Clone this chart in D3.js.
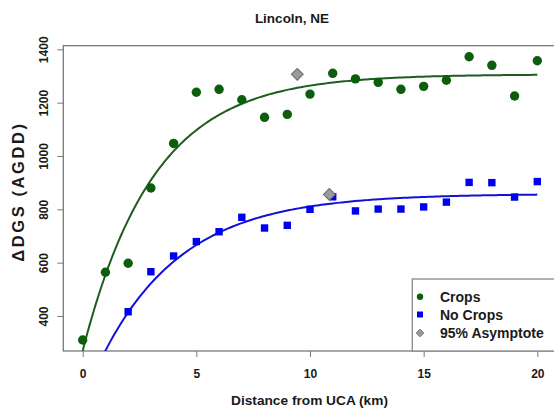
<!DOCTYPE html>
<html>
<head>
<meta charset="utf-8">
<script src="https://cdn.jsdelivr.net/npm/d3@7/dist/d3.min.js"></script>
<style>
  html, body { margin: 0; padding: 0; background: #fff; }
  svg { display: block; font-family: "Liberation Sans", Arial, Helvetica, sans-serif; font-weight: bold; }
</style>
</head>
<body>
<div id="chart"></div>
<script>
// Distance from the urban core (km)
const distances = d3.range(0, 21);

// ΔDGS observations, sites with crops
const cropsValues = [310, 564, 598, 880, 1047, 1239, 1250, 1211, 1145, 1156,
                     1232, 1310, 1289, 1276, 1250, 1261, 1284, 1372, 1340, 1225, 1357];

// ΔDGS observations, sites without crops (first two distances below the axis floor)
const noCropsDistances = d3.range(2, 21);
const noCropsValues = [416, 566, 625, 679, 716, 770, 730, 740, 800,
                       847, 794, 801, 801, 809, 827, 901, 900, 846, 904];

// Fitted exponential rise: [asymptote, value at 0 km, rate]
const cropsFit = [1306, 270, 0.32];
const noCropsFit = [858, 80, 0.28];

// 95% asymptote markers: [distance, value]
const asymptotePoints = [[9.44, 1306], [10.85, 856]];

const xTicks = [0, 5, 10, 15, 20];
const yTicks = [400, 600, 800, 1000, 1200, 1400];
const legendLabels = ["Crops", "No Crops", "95% Asymptote"];

const W = 554, H = 409;
const plot = { left: 63.3, right: 555.5, top: 45.7, bottom: 351 };

const svg = d3.select("#chart").append("svg")
  .attr("width", W).attr("height", H);

const x = d3.scaleLinear().domain([-0.853, 20.8]).range([plot.left, plot.right]);
const y = d3.scaleLinear().domain([268.8, 1413.5]).range([plot.bottom, plot.top]);

svg.append("defs").append("clipPath").attr("id", "plotClip")
  .append("rect")
  .attr("x", plot.left).attr("y", plot.top)
  .attr("width", plot.right - plot.left).attr("height", plot.bottom - plot.top);

// Title
svg.append("text")
  .attr("x", 292).attr("y", 23.3)
  .attr("text-anchor", "middle")
  .attr("font-size", 13.5).attr("fill", "#1a1a1a")
  .text("Lincoln, NE");

// Axes
const axisColor = "#7a7a7a";
const gx = svg.append("g")
  .attr("transform", `translate(0,${plot.bottom})`)
  .call(d3.axisBottom(x).tickValues(xTicks).tickSize(6).tickFormat(d3.format("d")));
gx.select(".domain").remove();
gx.selectAll("line").attr("stroke", axisColor);
gx.selectAll("text")
  .attr("y", 18).attr("dy", "0.71em")
  .attr("font-size", 12).attr("font-family", null).attr("fill", "#1a1a1a");

const gy = svg.append("g")
  .attr("transform", `translate(${plot.left},0)`)
  .call(d3.axisLeft(y).tickValues(yTicks).tickSize(6).tickFormat(d3.format("d")));
gy.select(".domain").remove();
gy.selectAll("line").attr("stroke", axisColor);
gy.selectAll("text")
  .attr("transform", "rotate(-90)")
  .attr("x", 0).attr("y", -15).attr("dy", 0)
  .attr("text-anchor", "middle")
  .attr("font-size", 12).attr("font-family", null).attr("fill", "#1a1a1a");

// Frame
svg.append("rect")
  .attr("x", plot.left).attr("y", plot.top)
  .attr("width", plot.right - plot.left).attr("height", plot.bottom - plot.top)
  .attr("fill", "none").attr("stroke", axisColor).attr("stroke-width", 1.3);

// Axis titles
svg.append("text")
  .attr("x", 309.5).attr("y", 405)
  .attr("text-anchor", "middle")
  .attr("font-size", 13.7).attr("fill", "#1a1a1a")
  .text("Distance from UCA (km)");

svg.append("text")
  .attr("transform", "translate(24,191.5) rotate(-90)")
  .attr("text-anchor", "middle")
  .attr("font-size", 16.5).attr("letter-spacing", 2.6).attr("fill", "#1a1a1a")
  .text("ΔDGS (AGDD)");

// Fitted curves
const fitAt = (p, d) => p[0] - (p[0] - p[1]) * Math.exp(-p[2] * d);
const curveX = d3.range(0, 20.001, 0.1);
const line = d3.line().x(d => x(d[0])).y(d => y(d[1]));

const g = svg.append("g").attr("clip-path", "url(#plotClip)");

g.append("path")
  .datum(curveX.map(d => [d, fitAt(cropsFit, d)]))
  .attr("d", line).attr("fill", "none")
  .attr("stroke", "#1f5c1f").attr("stroke-width", 2);

g.append("path")
  .datum(curveX.map(d => [d, fitAt(noCropsFit, d)]))
  .attr("d", line).attr("fill", "none")
  .attr("stroke", "#1212d6").attr("stroke-width", 2);

// Points
const green = "#0b5e0b", blue = "#0000f0";
g.selectAll(".crop").data(cropsValues).join("circle")
  .attr("cx", (d, i) => x(distances[i])).attr("cy", d => y(d))
  .attr("r", 4.7).attr("fill", green);

const sq = 7.4;
g.selectAll(".nocrop").data(noCropsValues).join("rect")
  .attr("x", (d, i) => x(noCropsDistances[i]) - sq / 2).attr("y", d => y(d) - sq / 2)
  .attr("width", sq).attr("height", sq).attr("fill", blue);

const diamond = d3.symbol().type(d3.symbolSquare).size(70);
g.selectAll(".asym").data(asymptotePoints).join("path")
  .attr("d", diamond)
  .attr("transform", d => `translate(${x(d[0])},${y(d[1])}) rotate(45)`)
  .attr("fill", "#9a9a9a").attr("stroke", "#6a6a6a").attr("stroke-width", 1);

// Legend
const lg = svg.append("g");
lg.append("rect")
  .attr("x", 412.3).attr("y", 279)
  .attr("width", 160).attr("height", plot.bottom - 279)
  .attr("fill", "#fff").attr("stroke", "#8a8a8a").attr("stroke-width", 1.3);

const legendY = [296.7, 314.5, 333];
lg.append("circle").attr("cx", 420).attr("cy", legendY[0]).attr("r", 3.2).attr("fill", green);
lg.append("rect").attr("x", 417).attr("y", legendY[1] - 3).attr("width", 6).attr("height", 6).attr("fill", blue);
lg.append("path")
  .attr("d", d3.symbol().type(d3.symbolSquare).size(30))
  .attr("transform", `translate(420,${legendY[2]}) rotate(45)`)
  .attr("fill", "#9a9a9a").attr("stroke", "#6a6a6a").attr("stroke-width", 0.8);

lg.selectAll(".lt").data(legendLabels).join("text")
  .attr("x", 440).attr("y", (d, i) => legendY[i] + 5)
  .attr("font-size", 14).attr("fill", "#1a1a1a")
  .text(d => d);
</script>
</body>
</html>
